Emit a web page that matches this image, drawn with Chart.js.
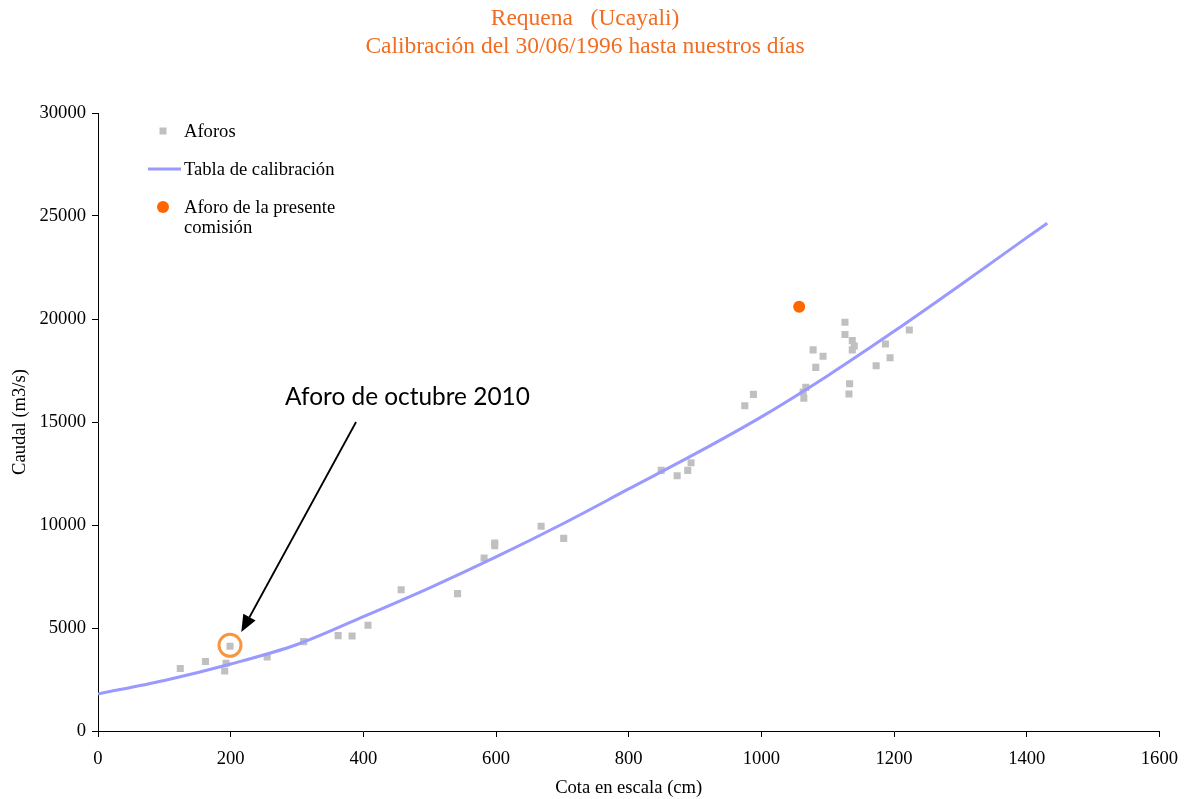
<!DOCTYPE html>
<html>
<head>
<meta charset="utf-8">
<title>Requena (Ucayali) – Calibración</title>
<script src="https://cdn.jsdelivr.net/npm/chart.js@4/dist/chart.umd.min.js"></script>
<style>
  html, body { margin: 0; padding: 0; background: #ffffff; }
  #wrap { width: 1189px; height: 799px; }
</style>
</head>
<body>
<div id="wrap"><canvas id="c" width="1189" height="799"></canvas></div>
<script>
// ---- Aforos (gauge height in cm, discharge in m3/s) ----
const aforosCota = [
  124, 162, 191, 193, 199, 255, 310, 362, 383, 407,
  457, 542, 582, 598, 598, 668, 702,
  849, 873, 889, 894, 975, 988,
  1063, 1067, 1064, 1078, 1093, 1082,
  1126, 1126, 1137, 1140, 1137, 1133, 1132,
  1173, 1187, 1194, 1223
];
const aforosCaudal = [
  3030, 3370, 2910, 3290, 4110, 3590, 4340, 4630, 4610, 5130,
  6860, 6670, 8400, 9130, 9000, 9940, 9350,
  12650, 12390, 12650, 13020, 15790, 16340,
  16460, 16680, 16150, 18500, 18190, 17650,
  19840, 19250, 18950, 18690, 18500, 16860, 16360,
  17730, 18790, 18120, 19470
];

// ---- Tabla de calibración ----
const tablaCota   = [0, 100, 200, 300, 400, 500, 600, 700, 800, 900, 1000, 1100, 1200, 1300, 1400, 1431];
const tablaCaudal = [1800, 2450, 3250, 4200, 5550, 6950, 8450, 10050, 11750, 13450, 15250, 17250, 19400, 21650, 23950, 24650];

// ---- Aforo de la presente comisión ----
const comisionCota   = [1057];
const comisionCaudal = [20600];

// ---- Aforo de octubre 2010 (highlighted) ----
const octubreCota = 199;
const octubreCaudal = 4110;

// ---- Axis ranges ----
const xTicks = { min: 0, max: 1600, step: 200 };
const yTicks = { min: 0, max: 30000, step: 5000 };

const titleLines = ['Requena   (Ucayali)', 'Calibración del 30/06/1996 hasta nuestros días'];
const legendLabels = ['Aforos', 'Tabla de calibración', ['Aforo de la presente', 'comisión']];
const annotationText = 'Aforo de octubre 2010';

const SERIF = '"Liberation Serif", "DejaVu Serif", serif';
const COL_AFORO = '#c0c0c0';
const COL_TABLA = '#9999ff';
const COL_COMISION = '#ff6600';
const COL_TITLE = '#f26c22';
const COL_RING = '#f7963f';

const toXY = (xs, ys) => xs.map((x, i) => ({ x: x, y: ys[i] }));
const plainNumber = v => String(v);

// Titles, legend and the October 2010 annotation
const decorations = {
  id: 'decorations',
  afterDraw(chart) {
    const { ctx, chartArea, scales } = chart;
    const xs = scales.x, ys = scales.y;
    ctx.save();

    // Title
    ctx.fillStyle = COL_TITLE;
    ctx.font = '23.5px ' + SERIF;
    ctx.textAlign = 'center';
    ctx.textBaseline = 'middle';
    ctx.fillText(titleLines[0], 585, 19);
    ctx.fillText(titleLines[1], 585, 47);

    // Legend
    const lx = chartArea.left + 65, tx = chartArea.left + 86, ty = chartArea.top;
    ctx.font = '18.6px ' + SERIF;
    ctx.textAlign = 'left';
    ctx.fillStyle = COL_AFORO;
    ctx.fillRect(lx - 3.5, ty + 18 - 3.5, 7, 7);
    ctx.strokeStyle = COL_TABLA;
    ctx.lineWidth = 3;
    ctx.beginPath();
    ctx.moveTo(lx - 15, ty + 56);
    ctx.lineTo(lx + 18, ty + 56);
    ctx.stroke();
    ctx.fillStyle = COL_COMISION;
    ctx.beginPath();
    ctx.arc(lx, ty + 94, 6, 0, Math.PI * 2);
    ctx.fill();
    ctx.fillStyle = '#000';
    ctx.fillText(legendLabels[0], tx, ty + 19);
    ctx.fillText(legendLabels[1], tx, ty + 57);
    ctx.fillText(legendLabels[2][0], tx, ty + 95);
    ctx.fillText(legendLabels[2][1], tx, ty + 115);

    // Ring around the October 2010 aforo
    const cx = xs.getPixelForValue(octubreCota), cy = ys.getPixelForValue(octubreCaudal);
    ctx.strokeStyle = COL_RING;
    ctx.lineWidth = 3;
    ctx.beginPath();
    ctx.arc(cx, cy - 1, 11, 0, Math.PI * 2);
    ctx.stroke();

    // Arrow
    const ax0 = xs.getPixelForValue(389), ay0 = ys.getPixelForValue(15000);
    const ax1 = xs.getPixelForValue(216), ay1 = ys.getPixelForValue(4800);
    const ang = Math.atan2(ay1 - ay0, ax1 - ax0);
    const headLen = 17, headHalf = 7;
    const bx = ax1 - headLen * Math.cos(ang), by = ay1 - headLen * Math.sin(ang);
    ctx.strokeStyle = '#000';
    ctx.lineWidth = 1.8;
    ctx.beginPath();
    ctx.moveTo(ax0, ay0);
    ctx.lineTo(bx, by);
    ctx.stroke();
    ctx.fillStyle = '#000';
    ctx.beginPath();
    ctx.moveTo(ax1, ay1);
    ctx.lineTo(bx + headHalf * Math.sin(ang), by - headHalf * Math.cos(ang));
    ctx.lineTo(bx - headHalf * Math.sin(ang), by + headHalf * Math.cos(ang));
    ctx.closePath();
    ctx.fill();

    // Annotation label
    ctx.font = '24.4px Lato, "Open Sans", sans-serif';
    ctx.textAlign = 'left';
    ctx.textBaseline = 'middle';
    ctx.fillStyle = '#000';
    ctx.fillText(annotationText, xs.getPixelForValue(282), ys.getPixelForValue(16210));

    ctx.restore();
  }
};

new Chart(document.getElementById('c'), {
  type: 'scatter',
  data: {
    datasets: [
      {
        label: legendLabels[0],
        data: toXY(aforosCota, aforosCaudal),
        pointStyle: 'rect',
        pointRadius: 5,
        pointHoverRadius: 5,
        pointBackgroundColor: COL_AFORO,
        pointBorderWidth: 0,
        borderWidth: 0,
        order: 3
      },
      {
        label: legendLabels[1],
        data: toXY(tablaCota, tablaCaudal),
        showLine: true,
        borderColor: COL_TABLA,
        borderWidth: 3,
        pointRadius: 0,
        pointHoverRadius: 0,
        cubicInterpolationMode: 'monotone',
        order: 2
      },
      {
        label: 'Aforo de la presente comisión',
        data: toXY(comisionCota, comisionCaudal),
        pointStyle: 'circle',
        pointRadius: 6,
        pointHoverRadius: 6,
        pointBackgroundColor: COL_COMISION,
        pointBorderWidth: 0,
        borderWidth: 0,
        order: 1
      }
    ]
  },
  options: {
    responsive: false,
    animation: false,
    devicePixelRatio: 1,
    layout: { padding: { top: 113, right: 29, left: 0, bottom: 0 } },
    plugins: {
      legend: { display: false },
      title: { display: false },
      tooltip: { enabled: false }
    },
    scales: {
      x: {
        type: 'linear',
        min: xTicks.min, max: xTicks.max,
        ticks: { stepSize: xTicks.step, color: '#000', padding: 11, font: { family: SERIF, size: 18.6 }, callback: plainNumber },
        grid: { drawOnChartArea: false, drawTicks: true, tickLength: 6, color: '#000' },
        border: { color: '#000', width: 1 },
        title: { display: true, text: 'Cota en escala (cm)', color: '#000', font: { family: SERIF, size: 18.6 }, padding: { top: 0, bottom: 0 } },
        afterFit(s) { s.height = 68; }
      },
      y: {
        type: 'linear',
        min: yTicks.min, max: yTicks.max,
        ticks: { stepSize: yTicks.step, color: '#000', padding: 6, font: { family: SERIF, size: 18.6 }, callback: plainNumber },
        grid: { drawOnChartArea: false, drawTicks: true, tickLength: 6, color: '#000' },
        border: { color: '#000', width: 1 },
        title: { display: true, text: 'Caudal (m3/s)', color: '#000', font: { family: SERIF, size: 18.6 }, padding: { top: 9, bottom: 0 } },
        afterFit(s) { s.width = 98; }
      }
    }
  },
  plugins: [decorations]
});
</script>
</body>
</html>
